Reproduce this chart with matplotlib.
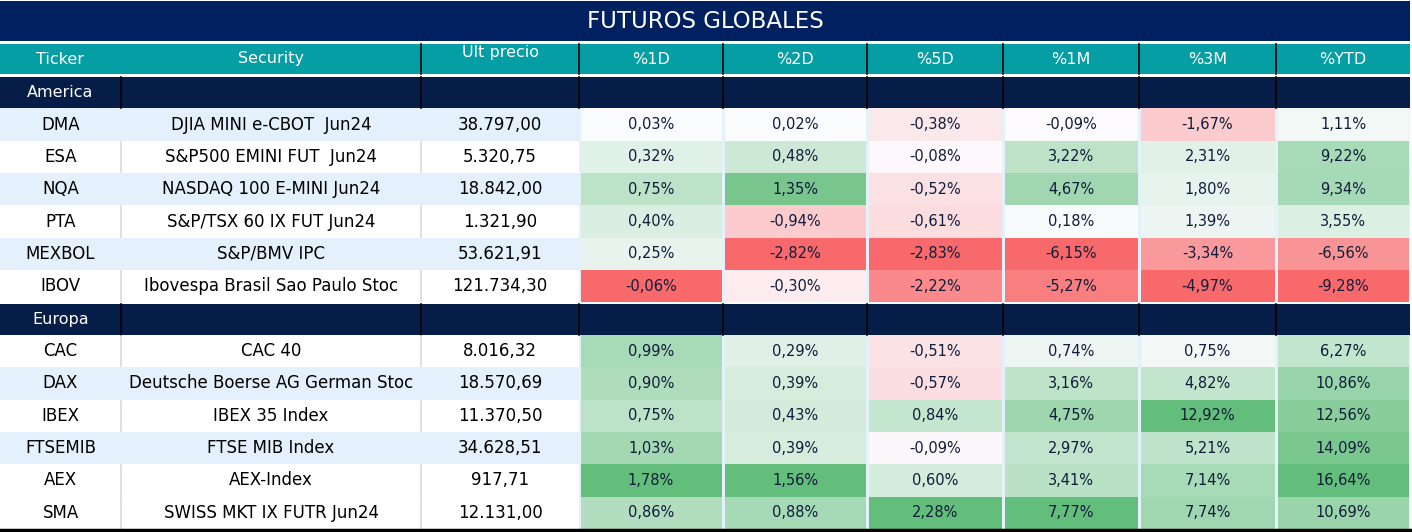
import numpy as np
import matplotlib.pyplot as plt
from matplotlib.patches import Rectangle
from matplotlib.colors import to_rgb

# ---- data ----
title = "FUTUROS GLOBALES"
headers = ["Ticker", "Security", "Últ precio", "%1D", "%2D", "%5D", "%1M", "%3M", "%YTD"]
sections = ["America", "Europa"]

tickers_america = ["DMA", "ESA", "NQA", "PTA", "MEXBOL", "IBOV"]
securities_america = ["DJIA MINI e-CBOT  Jun24", "S&P500 EMINI FUT  Jun24", "NASDAQ 100 E-MINI Jun24",
                      "S&P/TSX 60 IX FUT Jun24", "S&P/BMV IPC", "Ibovespa Brasil Sao Paulo Stoc"]
prices_america = [38797.00, 5320.75, 18842.00, 1321.90, 53621.91, 121734.30]
pct_america = [
    [0.03, 0.02, -0.38, -0.09, -1.67, 1.11],
    [0.32, 0.48, -0.08, 3.22, 2.31, 9.22],
    [0.75, 1.35, -0.52, 4.67, 1.80, 9.34],
    [0.40, -0.94, -0.61, 0.18, 1.39, 3.55],
    [0.25, -2.82, -2.83, -6.15, -3.34, -6.56],
    [-0.06, -0.30, -2.22, -5.27, -4.97, -9.28],
]

tickers_europa = ["CAC", "DAX", "IBEX", "FTSEMIB", "AEX", "SMA"]
securities_europa = ["CAC 40", "Deutsche Boerse AG German Stoc", "IBEX 35 Index",
                     "FTSE MIB Index", "AEX-Index", "SWISS MKT IX FUTR Jun24"]
prices_europa = [8016.32, 18570.69, 11370.50, 34628.51, 917.71, 12131.00]
pct_europa = [
    [0.99, 0.29, -0.51, 0.74, 0.75, 6.27],
    [0.90, 0.39, -0.57, 3.16, 4.82, 10.86],
    [0.75, 0.43, 0.84, 4.75, 12.92, 12.56],
    [1.03, 0.39, -0.09, 2.97, 5.21, 14.09],
    [1.78, 1.56, 0.60, 3.41, 7.14, 16.64],
    [0.86, 0.88, 2.28, 7.77, 7.74, 10.69],
]

# row shading of the first three columns (True = light blue)
stripe_america = [True, False, True, False, True, False]
stripe_europa = [False, True, False, True, False, False]

# ---- layout / style ----
W, H = 1412, 532
col_edges = [0, 121, 421, 579, 723, 867, 1003, 1139, 1276, 1410]
navy = "#002060"
section_bg = "#061e47"
teal = "#059ea4"
stripe_col = "#e4f1fc"
txt_pct = "#111c3a"
font = "DejaVu Sans"

red = np.array(to_rgb("#f8696b"))
white = np.array(to_rgb("#fcfcff"))
green = np.array(to_rgb("#63be7b"))


def fmt_num(v, dec=2):
    s = f"{v:,.{dec}f}"
    return s.replace(",", "X").replace(".", ",").replace("X", ".")


def scale_color(v, vmin, vmax):
    # excel style 3-colour scale: min red, 0 white, max green
    if v >= 0:
        f = v / vmax if vmax > 0 else 0
        return white + (green - white) * f
    f = v / vmin if vmin < 0 else 0
    return white + (red - white) * f


fig = plt.figure(figsize=(W / 100, H / 100), dpi=100)
ax = fig.add_axes([0, 0, 1, 1])
ax.set_xlim(0, W)
ax.set_ylim(H, 0)
ax.axis("off")

# title bar
ax.add_patch(Rectangle((0, 1), col_edges[-1], 40, color=navy, lw=0))
ax.text(col_edges[-1] / 2, 21, title, color="white", fontsize=16.5, family=font,
        ha="center", va="center")

# header row
hy0, hy1 = 44, 74
ax.add_patch(Rectangle((0, hy0), col_edges[-1], hy1 - hy0, color=teal, lw=0))
for i, h in enumerate(headers):
    cx = (col_edges[i] + col_edges[i + 1]) / 2
    cy = 51 if i == 2 else (hy0 + hy1) / 2
    ax.text(cx, cy, h, color="white", fontsize=11.5, family=font, ha="center", va="center")
for x in col_edges[2:-1]:
    ax.plot([x, x], [hy0, hy1], color="black", lw=1.2)

# body
all_pct = np.array(pct_america + pct_europa)
col_min = all_pct.min(axis=0)
col_max = all_pct.max(axis=0)

row_h = (529 - 76) / 14
blocks = [
    (sections[0], tickers_america, securities_america, prices_america, pct_america, stripe_america),
    (sections[1], tickers_europa, securities_europa, prices_europa, pct_europa, stripe_europa),
]
r = 0
for name, tks, secs, prs, pcts, stripes in blocks:
    y0 = 76 + r * row_h
    ax.add_patch(Rectangle((0, y0 + 1), col_edges[-1], row_h - 1, color=section_bg, lw=0))
    ax.text((col_edges[0] + col_edges[1]) / 2, y0 + row_h / 2 + 0.5, name, color="white",
            fontsize=11.5, family=font, ha="center", va="center")
    for x in col_edges[1:-1]:
        ax.plot([x, x], [y0 + 1, y0 + row_h], color="black", lw=1.2)
    r += 1
    for k in range(len(tks)):
        y0 = 76 + r * row_h
        cy = y0 + row_h / 2
        bg = stripe_col if stripes[k] else "white"
        ax.add_patch(Rectangle((0, y0), col_edges[3], row_h, color=bg, lw=0))
        if not stripes[k]:
            for x in col_edges[1:3]:
                ax.plot([x, x], [y0 + 1, y0 + row_h - 1], color="#d9d9d9", lw=1.2)
        ax.add_patch(Rectangle((col_edges[3], y0), col_edges[-1] - col_edges[3], row_h,
                               color=stripe_col, lw=0))
        vals = [tks[k], secs[k], fmt_num(prs[k])]
        for i, t in enumerate(vals):
            cx = (col_edges[i] + col_edges[i + 1]) / 2
            ax.text(cx, cy, t, color="black", fontsize=12, family=font, ha="center", va="center")
        for j, v in enumerate(pcts[k]):
            x0, x1 = col_edges[3 + j], col_edges[4 + j]
            c = scale_color(v, col_min[j], col_max[j])
            ax.add_patch(Rectangle((x0 + 1.5, y0), x1 - x0 - 3, row_h, color=c, lw=0))
            ax.text((x0 + x1) / 2, cy, fmt_num(v) + "%", color=txt_pct, fontsize=10.5,
                    family=font, ha="center", va="center")
        r += 1

# bottom rule
ax.plot([0, col_edges[-1]], [529.5, 529.5], color="black", lw=2.5)

fig.savefig("out.png", dpi=100)
